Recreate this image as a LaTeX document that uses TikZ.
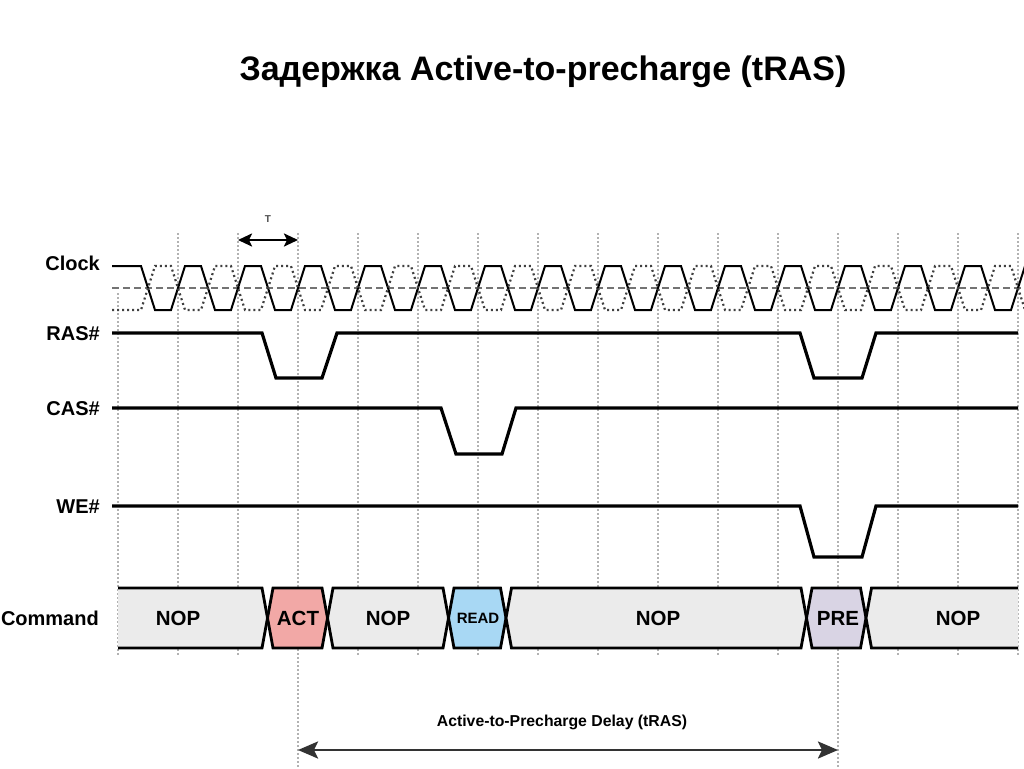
\documentclass[tikz,border=0pt]{standalone}
\usepackage{fontspec}
\setmainfont{Liberation Sans}
\usetikzlibrary{arrows.meta}
\definecolor{nopfill}{HTML}{EBEBEB}
\definecolor{actfill}{HTML}{F2A8A6}
\definecolor{readfill}{HTML}{A8D8F4}
\definecolor{prefill}{HTML}{D9D4E4}
\newcommand\busseg[3]{\filldraw[bus, fill=#3] (#1,618) -- ({#1+5.5},588) -- ({#2-5.5},588) -- (#2,618) -- ({#2-5.5},648) -- ({#1+5.5},648) -- cycle;}
\begin{document}
\begin{tikzpicture}[x=1pt,y=-1pt,
  gridline/.style={draw=gray!60, line width=1.2pt, dash pattern=on 1.5pt off 2.5pt},
  sig/.style={line width=3.2pt, line join=miter},
  clk/.style={line width=2pt, line join=miter},
  clkdot/.style={line width=2.2pt, dash pattern=on 2pt off 3pt, draw=black!75},
  middash/.style={line width=2pt, dash pattern=on 7pt off 4pt, draw=black!55},
  lbl/.style={font=\bfseries\fontsize{20}{20}\selectfont, anchor=base east, inner sep=0},
  cmd/.style={font=\bfseries\fontsize{20.5}{20.5}\selectfont, inner sep=0},
  bus/.style={line width=2.8pt, line join=miter},
  dim/.style={line width=2.6pt, draw=black!80, {Stealth[length=20pt,width=17pt,inset=4pt]}-{Stealth[length=20pt,width=17pt,inset=4pt]}},
]
\useasboundingbox (0,0) rectangle (1024,768);
\clip (0,0) rectangle (1024,768);

% title
\node[font=\bfseries\fontsize{34}{34}\selectfont, anchor=base, inner sep=0] (title) at (543,80) {Задержка Active-to-precharge (tRAS)};

% grid
\draw[gridline] (118,293) -- (118,655);
\foreach \x in {178,238,358,418,478,538,598,658,718,778,898,958,1018}
  \draw[gridline] (\x,233) -- (\x,655);
\draw[gridline] (298,233) -- (298,768);
\draw[gridline] (838,233) -- (838,768);

% period T
\coordinate (t0) at (238,240);
\coordinate (t1) at (298,240);
\draw[line width=2.4pt, {Stealth[length=14pt,width=13pt,inset=3pt]}-{Stealth[length=14pt,width=13pt,inset=3pt]}] (t0) -- (t1);
\node[font=\bfseries\fontsize{10}{10}\selectfont, text=black!70] (T) at (268,219) {T};

% labels
\node[lbl] (lclk) at (100,270) {Clock};
\node[lbl] (lras) at (100,340) {RAS\#};
\node[lbl] (lcas) at (100,415) {CAS\#};
\node[lbl] (lwe) at (100,513) {WE\#};
\node[lbl] (lcmd) at (99,625) {Command};

% clock
\draw[middash] (112,288) -- (1024,288);
\draw[clk] (112,266) foreach \k in {0,...,14} { -- ({141+60*\k},266) -- ({155+60*\k},310) -- ({171+60*\k},310) -- ({185+60*\k},266)} -- (1030,266);
\draw[clkdot] (112,310) foreach \k in {0,...,14} { -- ({141+60*\k},310) -- ({155+60*\k},266) -- ({171+60*\k},266) -- ({185+60*\k},310)} -- (1030,310);

% RAS, CAS, WE
\draw[sig] (112,333) -- (262,333) -- (276,378) -- (322,378) -- (337,333) -- (800,333) -- (814,378) -- (862,378) -- (876,333) -- (1018,333);
\draw[sig] (112,408) -- (441,408) -- (456,454) -- (502,454) -- (516,408) -- (1018,408);
\draw[sig] (112,506) -- (800,506) -- (814,557) -- (862,557) -- (876,506) -- (1018,506);

% command bus
\fill[nopfill] (118,588) -- (262,588) -- (267.5,618) -- (262,648) -- (118,648) -- cycle;
\draw[bus] (118,588) -- (262,588) -- (267.5,618) -- (262,648) -- (118,648);
\busseg{267.5}{327.5}{actfill}
\busseg{327.5}{448.5}{nopfill}
\busseg{448.5}{506}{readfill}
\busseg{506}{806.5}{nopfill}
\busseg{806.5}{866}{prefill}
\fill[nopfill] (1018,588) -- (871.5,588) -- (866,618) -- (871.5,648) -- (1018,648) -- cycle;
\draw[bus] (1018,588) -- (871.5,588) -- (866,618) -- (871.5,648) -- (1018,648);

\node[cmd] (nop1) at (178,618) {NOP};
\node[cmd] (act) at (298,618) {ACT};
\node[cmd] (nop2) at (388,618) {NOP};
\node[cmd, font=\bfseries\fontsize{15}{15}\selectfont] (read) at (478,618) {READ};
\node[cmd] (nop3) at (658,618) {NOP};
\node[cmd] (pre) at (838,618) {PRE};
\node[cmd] (nop4) at (958,618) {NOP};

% tRAS delay
\coordinate (d0) at (298,750);
\coordinate (d1) at (838,750);
\draw[dim] (d0) -- (d1);
\node[font=\bfseries\fontsize{15.8}{15.8}\selectfont, inner sep=0] (dlabel) at (562,722) {Active-to-Precharge Delay (tRAS)};
\end{tikzpicture}
\end{document}
